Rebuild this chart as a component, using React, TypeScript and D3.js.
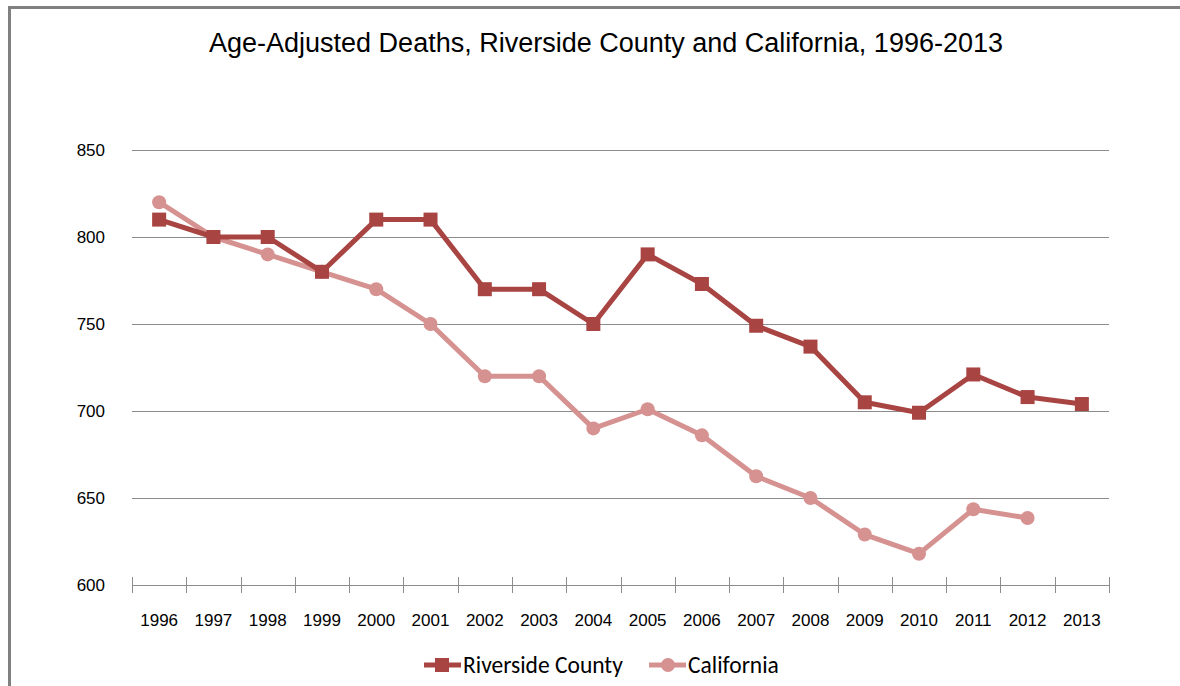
import React from "react";
import * as d3 from "d3";

const years = ["1996","1997","1998","1999","2000","2001","2002","2003","2004","2005","2006","2007","2008","2009","2010","2011","2012","2013"];
const riverside = [810, 800, 800, 780, 810, 810, 770, 770, 750, 790, 773, 749, 737, 705, 699, 721, 708, 704];
const california = [820, 800, 790, 780, 770, 750, 720, 720, 690, 701, 686, 662.5, 650, 629, 618, 643.5, 638.5, null];
const yTicks = [600, 650, 700, 750, 800, 850];
const title = "Age-Adjusted Deaths, Riverside County and California, 1996-2013";
const seriesNames = ["Riverside County", "California"];

const W = 1180, H = 686;
const RIV = "#A84442";
const CAL = "#D59291";

export default function App() {
  const x = d3.scaleBand<string>().domain(years).range([132, 1109]);
  const y = d3.scaleLinear().domain([600, 850]).range([585, 150]);
  const cx = (yr: string) => (x(yr) as number) + x.bandwidth() / 2;

  const rivPts = years.map((yr, i) => ({ yr, v: riverside[i] }));
  const calPts = years.map((yr, i) => ({ yr, v: california[i] })).filter(d => d.v != null) as { yr: string; v: number }[];

  const line = d3.line<{ yr: string; v: number }>().x(d => cx(d.yr)).y(d => y(d.v));

  const font = "'Liberation Sans', Arial, sans-serif";
  const legendFont = "Carlito, Lato, 'Open Sans', sans-serif";
  const boundaries = years.map(yr => x(yr) as number).concat([1109]);

  return (
    <svg width={W} height={H} style={{ position: "absolute", left: 0, top: 0, display: "block" }}>
      <rect x={0} y={0} width={W} height={H} fill="#fff" />
      <rect x={9.5} y={7.5} width={W + 20} height={H + 20} fill="none" stroke="#808080" strokeWidth={3} />
      <text x={606} y={52} textAnchor="middle" fontFamily={font} fontSize={27} fill="#000">{title}</text>
      {yTicks.map(t => (
        <g key={t}>
          <line x1={132} x2={1109} y1={Math.round(y(t)) + 0.5} y2={Math.round(y(t)) + 0.5} stroke="#8c8c8c" strokeWidth={1} />
          <text x={105} y={y(t) + 6} textAnchor="end" fontFamily={font} fontSize={17} fill="#000">{t}</text>
        </g>
      ))}
      {boundaries.map((b, i) => (
        <line key={i} x1={Math.round(b) + 0.5} x2={Math.round(b) + 0.5} y1={577} y2={593} stroke="#8c8c8c" strokeWidth={1} />
      ))}
      {years.map(yr => (
        <text key={yr} x={cx(yr)} y={626} textAnchor="middle" fontFamily={font} fontSize={17} fill="#000">{yr}</text>
      ))}
      <path d={line(calPts) as string} fill="none" stroke={CAL} strokeWidth={5} strokeLinejoin="round" />
      {calPts.map(d => (
        <circle key={d.yr} cx={cx(d.yr)} cy={y(d.v)} r={7} fill={CAL} />
      ))}
      <path d={line(rivPts) as string} fill="none" stroke={RIV} strokeWidth={5} strokeLinejoin="round" />
      {rivPts.map(d => (
        <rect key={d.yr} x={cx(d.yr) - 7} y={y(d.v) - 7} width={14} height={14} fill={RIV} />
      ))}
      <g>
        <line x1={424} x2={461} y1={665} y2={665} stroke={RIV} strokeWidth={5} />
        <rect x={435} y={658} width={14} height={14} fill={RIV} />
        <text x={463} y={673} fontFamily={legendFont} fontSize={23.5} fill="#000">{seriesNames[0]}</text>
        <line x1={649} x2={686} y1={665} y2={665} stroke={CAL} strokeWidth={5} />
        <circle cx={668} cy={665} r={7} fill={CAL} />
        <text x={688} y={673} fontFamily={legendFont} fontSize={23.5} fill="#000">{seriesNames[1]}</text>
      </g>
    </svg>
  );
}
